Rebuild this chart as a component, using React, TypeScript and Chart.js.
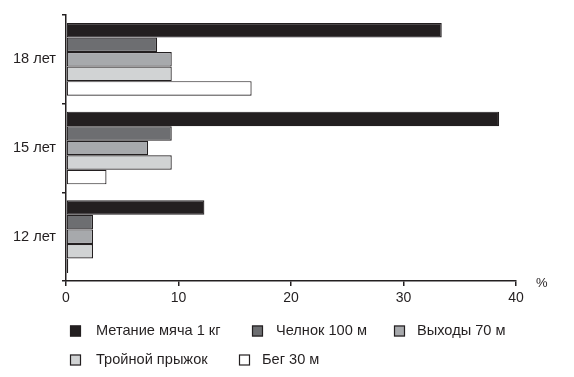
import React, { useEffect, useRef } from "react";
import { Chart, registerables } from "chart.js";

Chart.register(...registerables);

const categories = ["18 лет", "15 лет", "12 лет"];
const seriesNames = ["Метание мяча 1 кг", "Челнок 100 м", "Выходы 70 м", "Тройной прыжок", "Бег 30 м"];
const throwBall = [33.4, 38.5, 12.3];
const shuttle = [8.1, 9.4, 2.4];
const pullUps = [9.4, 7.3, 2.4];
const tripleJump = [9.4, 9.4, 2.4];
const run30 = [16.5, 3.6, 0.2];
const xTicks = [0, 10, 20, 30, 40];
const unitLabel = "%";

const seriesValues = [throwBall, shuttle, pullUps, tripleJump, run30];
const colors = ["#231f20", "#6d6e71", "#a7a9ac", "#d1d3d4", "#ffffff"];
const FONT = "'Liberation Sans', Arial, sans-serif";

const legendPos = [
  { sx: 70, tx: 96, y: 331 },
  { sx: 252, tx: 276, y: 331 },
  { sx: 394, tx: 417, y: 331 },
  { sx: 70, tx: 96, y: 360 },
  { sx: 239, tx: 262, y: 360 },
];

const legendPlugin = {
  id: "customLegend",
  afterDraw(chart: any) {
    const ctx = chart.ctx;
    ctx.save();
    ctx.font = `14.6px ${FONT}`;
    ctx.textBaseline = "middle";
    chart.data.datasets.forEach((ds: any, i: number) => {
      const p = legendPos[i];
      const s = 11;
      ctx.fillStyle = ds.backgroundColor;
      ctx.fillRect(p.sx, p.y - s / 2, s, s);
      ctx.strokeStyle = "#231f20";
      ctx.lineWidth = 1.2;
      ctx.strokeRect(p.sx + 0.5, p.y - s / 2 + 0.5, s - 1, s - 1);
      ctx.fillStyle = "#231f20";
      ctx.fillText(ds.label, p.tx, p.y);
    });
    const xs = chart.scales.x;
    ctx.font = `13px ${FONT}`;
    ctx.textAlign = "left";
    ctx.fillText(unitLabel, xs.right + 20, xs.top + 2);
    ctx.restore();
  },
};

export default function App() {
  const ref = useRef<HTMLCanvasElement>(null);
  useEffect(() => {
    const chart = new Chart(ref.current as HTMLCanvasElement, {
      type: "bar",
      data: {
        labels: categories,
        datasets: seriesValues.map((vals, i) => ({
          label: seriesNames[i],
          data: vals,
          backgroundColor: colors[i],
          borderColor: "#231f20",
          borderWidth: 1.2,
          borderSkipped: false,
          barPercentage: 1,
          categoryPercentage: 0.82,
        })),
      },
      options: {
        indexAxis: "y",
        animation: false,
        responsive: false,
        devicePixelRatio: 1,
        layout: { padding: { left: 0, top: 15, right: 58, bottom: 0 } },
        plugins: { legend: { display: false }, tooltip: { enabled: false } },
        scales: {
          x: {
            type: "linear",
            min: 0,
            max: 40,
            afterBuildTicks: (s: any) => {
              s.ticks = xTicks.map((v) => ({ value: v }));
            },
            afterFit: (s: any) => {
              s.height = 96;
            },
            border: { display: true, color: "#231f20", width: 1.5 },
            grid: { drawOnChartArea: false, drawTicks: true, tickLength: 5, color: "#231f20", lineWidth: 1.5 },
            ticks: { color: "#231f20", font: { size: 14, family: FONT }, padding: 4, maxRotation: 0 },
          },
          y: {
            type: "category",
            afterFit: (s: any) => {
              s.width = 66;
            },
            border: { display: true, color: "#231f20", width: 1.5 },
            grid: { offset: true, drawOnChartArea: false, drawTicks: true, tickLength: 4, color: "#231f20", lineWidth: 1.5 },
            ticks: { color: "#231f20", font: { size: 14.6, family: FONT }, padding: 6 },
          },
        },
      },
      plugins: [legendPlugin],
    } as any);
    return () => chart.destroy();
  }, []);
  return (
    <div style={{ position: "absolute", left: 0, top: 0, width: 574, height: 377, background: "#fff" }}>
      <canvas ref={ref} width={574} height={377} style={{ width: 574, height: 377 }} />
    </div>
  );
}
